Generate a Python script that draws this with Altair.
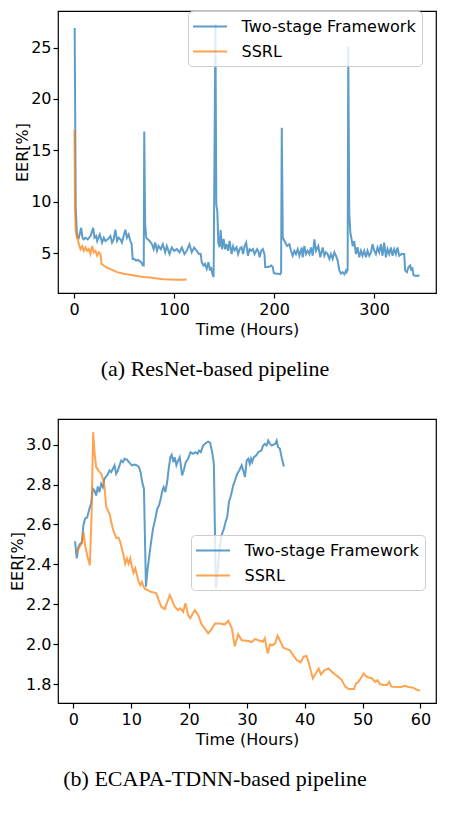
import altair as alt
import pandas as pd

# ---------------- Panel (a): ResNet-based pipeline ----------------
a_two_t = [0.5, 1.5, 2.5, 3.0, 4.65, 6.98, 8.3, 9.63, 11.3, 13.6, 16.3, 19.0, 20.3, 22.0, 23.0, 25.6, 27.9,
           29.6, 31.2, 33.6, 36.2, 37.9, 39.5, 41.2, 42.9, 44.5, 46.2, 47.8, 49.5, 51.2, 52.8, 54.5, 56.2,
           57.5, 58.5, 60.2, 61.8, 63.8, 65.5, 67.1, 68.8, 69.6, 70.1, 71.0, 72.1, 73.5, 75.5, 77.8, 79.5,
           81.1, 82.8, 84.4, 86.7, 88.7, 91.0, 92.7, 95.4, 97.7, 100.0, 102.7, 105.3, 107.7, 110.3, 112.6,
           115.3, 117.6, 120.0, 122.6, 125.0, 126.6, 127.6, 129.3, 130.9, 132.6, 134.3, 135.9, 136.9, 138.2,
           139.5, 140.6, 141.3, 142.2, 143.2, 144.2, 145.5, 146.5, 148.0, 149.5, 151.0, 152.5, 154.0, 155.5,
           157.5, 159.0, 160.5, 162.5, 164.0, 166.0, 167.5, 169.0, 170.5, 172.1, 173.8, 175.5, 177.1, 178.8,
           180.5, 182.1, 183.1, 184.5, 185.5, 187.1, 188.8, 190.4, 191.1, 193.8, 195.4, 197.1, 198.7, 199.7,
           202.0, 204.4, 206.0, 207.0, 207.7, 208.7, 210.4, 213.0, 215.3, 216.9, 218.6, 220.3, 221.9, 223.6,
           225.3, 227.6, 228.6, 230.3, 231.9, 233.6, 235.3, 236.9, 238.6, 240.3, 241.9, 244.3, 246.2, 248.6,
           250.3, 251.9, 253.6, 255.3, 256.9, 258.6, 260.3, 261.9, 263.6, 265.3, 266.9, 268.6, 270.3, 271.9,
           272.6, 273.6, 274.2, 275.2, 276.3, 277.5, 278.6, 280.2, 281.9, 283.5, 285.2, 286.9, 288.5, 290.2,
           291.9, 293.5, 295.2, 296.9, 298.5, 300.2, 301.9, 303.5, 305.2, 306.9, 308.5, 310.2, 311.9, 313.5,
           315.2, 316.9, 318.5, 320.2, 321.9, 323.5, 325.2, 327.5, 330.2, 331.2, 332.9, 334.5, 336.2, 337.2,
           338.2, 339.5, 342.0, 344.0, 345.5]
a_two_v = [26.9, 9.5, 7.3, 6.68, 6.52, 7.48, 6.52, 6.36, 6.52, 6.36, 6.68, 7.48, 6.52, 6.68, 6.2, 6.84, 6.05,
           6.52, 6.2, 6.36, 6.68, 6.05, 6.36, 7.3, 6.2, 6.52, 6.36, 6.05, 6.68, 7.3, 6.52, 6.84, 6.2,
           5.89, 4.46, 4.46, 4.3, 4.36, 4.25, 4.14, 3.82, 3.82, 16.85, 7.8, 6.52, 6.36, 6.2, 5.89, 5.41,
           6.05, 5.25, 5.72, 5.41, 5.89, 5.1, 5.72, 4.93, 5.57, 5.25, 5.41, 5.1, 5.57, 4.93, 5.25,
           5.89, 5.1, 5.57, 5.25, 4.93, 4.93, 4.14, 3.82, 3.98, 3.5, 4.14, 3.34, 3.67, 3.03,
           2.7, 17.7, 27.3, 9.7, 9.1, 6.0, 5.6, 7.3, 5.4, 6.4, 5.4, 5.9, 5.25, 6.2,
           4.93, 5.7, 5.3, 5.6, 4.93, 5.5, 5.6, 4.93, 5.7, 6.05, 4.77, 5.41, 5.25, 5.41,
           4.93, 5.25, 5.41, 5.1, 4.62, 5.25, 5.41, 4.93, 3.67, 3.67, 3.72, 3.82, 3.67, 3.1,
           3.03, 3.03, 2.97, 3.1, 17.2, 6.55, 6.2, 5.72, 5.89, 5.25, 4.77, 5.25, 4.93, 5.41,
           4.77, 5.57, 4.62, 5.72, 4.93, 5.25, 4.93, 5.57, 4.77, 6.36, 5.25, 5.72, 4.62, 5.57,
           4.77, 5.1, 4.93, 4.46, 4.93, 4.46, 5.1, 4.77, 4.3, 3.34, 3.03, 3.18, 2.97, 3.34,
           3.18, 3.4, 25.1, 9.0, 7.0, 6.4, 5.7, 6.2, 4.93, 5.6, 4.62, 5.25, 4.77, 5.25,
           4.62, 5.25, 4.77, 5.1, 5.9, 5.25, 4.93, 5.57, 5.1, 5.9, 4.77, 6.05, 4.62, 5.41,
           4.93, 5.57, 4.77, 5.41, 4.93, 5.57, 4.77, 4.93, 4.93, 3.34, 3.18, 3.67, 3.82, 3.34,
           3.67, 2.87, 2.8, 2.85, 2.82]

a_ssrl_t = [0.3, 0.8, 1.5, 2.5, 3.0, 4.6, 6.3, 8.0, 9.6, 11.3, 13.0, 14.6, 16.3, 18.0, 19.6, 21.3, 23.0,
            24.6, 26.3, 27.5, 29.5, 33.0, 38.0, 43.0, 49.5, 56.0, 63.0, 69.5, 76.0, 83.0, 89.4, 96.0,
            102.7, 109.0, 112.6]
a_ssrl_v = [17.0, 9.5, 7.2, 6.6, 6.68, 5.9, 5.41, 5.72, 5.25, 5.57, 5.25, 5.41, 4.93, 5.72, 5.1, 5.25, 4.77,
            5.1, 4.93, 3.98, 3.82, 3.6, 3.4, 3.18, 3.03, 2.92, 2.81, 2.71, 2.65, 2.55, 2.49, 2.46,
            2.43, 2.43, 2.46]

# ---------------- Panel (b): ECAPA-TDNN-based pipeline ----------------
b_two_t = [0.29, 0.58, 0.87, 1.22, 1.45, 1.74, 2.03, 2.38, 2.78, 3.07, 3.36, 3.65, 3.94, 4.22, 4.51, 4.8,
           5.09, 5.38, 5.84, 6.25, 6.54, 6.83, 7.11, 7.4, 7.69, 7.98, 8.27, 8.56, 8.85, 9.25, 9.72, 10.12,
           10.58, 10.99, 11.33, 11.62, 11.9, 12.2, 12.55, 12.78, 13.07, 13.36, 13.77, 14.17, 14.52, 14.81,
           15.1, 15.38, 15.61, 15.9, 16.25, 16.48, 16.77, 17.0, 17.29, 17.52, 17.81, 18.1, 18.39, 18.8,
           19.08, 19.43, 19.84, 20.24, 20.7, 21.1, 21.45, 21.74, 22.03, 22.43, 22.9, 23.3, 23.65, 24.0,
           24.29, 24.46, 24.64, 25.04, 25.33, 25.62, 26.03, 26.32, 26.6, 26.9, 27.24, 27.65, 27.94, 28.34,
           28.69, 29.1, 29.38, 29.67, 29.96, 30.25, 30.5, 30.7, 30.9, 31.2, 31.6, 31.97, 32.3, 32.5, 32.8,
           33.1, 33.4, 33.7, 34.0, 34.3, 34.6, 34.9, 35.15, 35.4, 35.7, 36.0, 36.4]
b_two_v = [2.516, 2.43, 2.488, 2.505, 2.51, 2.596, 2.63, 2.635, 2.68, 2.704, 2.779, 2.77, 2.745, 2.79, 2.762,
           2.804, 2.787, 2.829, 2.846, 2.87, 2.862, 2.879, 2.896, 2.854, 2.87, 2.896, 2.92, 2.912, 2.929,
           2.925, 2.908, 2.896, 2.9, 2.896, 2.887, 2.862, 2.812, 2.779, 2.288, 2.363, 2.43, 2.496, 2.579,
           2.63, 2.68, 2.695, 2.729, 2.77, 2.787, 2.762, 2.82, 2.88, 2.937, 2.949, 2.912, 2.937, 2.896,
           2.92, 2.937, 2.846, 2.87, 2.912, 2.929, 2.962, 2.954, 2.962, 2.954, 2.97, 2.962, 2.995, 3.008,
           3.015, 3.008, 2.962, 2.904, 2.596, 2.28, 2.396, 2.496, 2.546, 2.579, 2.613, 2.638, 2.713, 2.745,
           2.796, 2.82, 2.854, 2.87, 2.896, 2.87, 2.837, 2.92, 2.929, 2.904, 2.929, 2.912, 2.937, 2.945,
           2.962, 2.967, 2.97, 2.995, 3.003, 2.995, 3.02, 3.003, 2.995, 3.0, 3.003, 3.02, 2.987, 2.98,
           2.937, 2.89]

b_ssrl_t = [0.47, 0.76, 1.05, 1.45, 1.74, 2.03, 2.38, 2.84, 3.13, 3.42, 3.65, 3.94, 4.34, 4.8, 5.09, 5.38,
            5.67, 5.96, 6.25, 6.54, 6.83, 7.11, 7.4, 7.81, 8.1, 8.38, 8.67, 8.96, 9.25, 9.54, 9.83, 10.12,
            10.4, 10.7, 10.99, 11.28, 11.57, 11.86, 12.15, 12.43, 12.9, 13.36, 13.88, 14.34, 14.75, 15.2,
            15.8, 16.25, 16.66, 17.06, 17.52, 18.1, 18.5, 18.97, 19.37, 19.84, 20.2, 21.0, 21.6, 22.1,
            22.7, 23.3, 23.8, 24.5, 25.3, 26.2, 26.8, 27.4, 27.9, 28.5, 29.1, 30.3, 30.8, 31.4, 32.0,
            32.8, 33.1, 33.6, 34.0, 34.4, 34.9, 35.3, 35.7, 36.3, 36.9, 37.4, 38.0, 38.6, 39.3, 39.8,
            40.3, 40.8, 41.4, 41.9, 42.4, 42.8, 43.4, 44.1, 44.7, 45.2, 45.8, 46.4, 47.0, 47.6, 48.5,
            48.9, 49.3, 49.7, 50.2, 50.6, 51.0, 51.6, 52.2, 52.6, 53.0, 53.6, 54.2, 54.6, 55.0, 55.9,
            56.7, 57.3, 57.9, 58.7, 59.5, 59.9]
b_ssrl_v = [2.454, 2.47, 2.488, 2.505, 2.563, 2.496, 2.446, 2.396, 2.63, 3.062, 2.962, 2.887, 2.87, 2.854,
            2.829, 2.79, 2.687, 2.67, 2.654, 2.613, 2.579, 2.554, 2.533, 2.533, 2.513, 2.479, 2.446, 2.404,
            2.43, 2.404, 2.43, 2.388, 2.358, 2.38, 2.346, 2.313, 2.296, 2.313, 2.288, 2.276, 2.271, 2.263,
            2.26, 2.255, 2.221, 2.188, 2.176, 2.213, 2.246, 2.221, 2.188, 2.171, 2.18, 2.163, 2.205, 2.146,
            2.13, 2.171, 2.146, 2.104, 2.08, 2.055, 2.071, 2.104, 2.104, 2.1, 2.118, 2.08, 1.99, 2.05,
            2.02, 2.016, 2.01, 2.026, 2.02, 2.013, 2.03, 1.954, 1.999, 1.995, 2.005, 2.043, 2.02, 1.983,
            1.976, 1.971, 1.946, 1.921, 1.909, 1.938, 1.942, 1.896, 1.829, 1.854, 1.879, 1.849, 1.87,
            1.879, 1.862, 1.85, 1.837, 1.821, 1.788, 1.776, 1.776, 1.804, 1.812, 1.83, 1.854, 1.84,
            1.834, 1.83, 1.812, 1.82, 1.8, 1.796, 1.796, 1.812, 1.788, 1.786, 1.786, 1.792, 1.786, 1.783,
            1.771, 1.768]

series_names = ["Two-stage Framework", "SSRL"]
series_colors = ["#1f77b4", "#ff7f0e"]
captions = ["(a) ResNet-based pipeline", "(b) ECAPA-TDNN-based pipeline"]


def make_df(t1, v1, t2, v2):
    return pd.DataFrame({
        "t": list(t1) + list(t2),
        "v": list(v1) + list(v2),
        "series": [series_names[0]] * len(t1) + [series_names[1]] * len(t2),
    })


def panel(df, xdom, ydom, xticks, yticks, w, h, caption, lx, ly, ytitle_fmt):
    return alt.Chart(df).mark_line(strokeWidth=2, opacity=0.72, clip=True).encode(
        x=alt.X("t:Q", scale=alt.Scale(domain=xdom, nice=False, zero=False),
                axis=alt.Axis(values=xticks, title="Time (Hours)", format="d")),
        y=alt.Y("v:Q", scale=alt.Scale(domain=ydom, nice=False, zero=False),
                axis=alt.Axis(values=yticks, title="EER[%]", format=ytitle_fmt)),
        color=alt.Color("series:N",
                        scale=alt.Scale(domain=series_names, range=series_colors),
                        legend=alt.Legend(title=None, orient="none", legendX=lx, legendY=ly,
                                          direction="vertical", symbolType="M-2,0H2",
                                          symbolSize=289, symbolStrokeWidth=2, symbolOffset=6.5,
                                          symbolOpacity=0.72, labelFont="DejaVu Sans",
                                          labelFontSize=16, labelColor="black", labelOffset=22,
                                          labelLimit=400,
                                          padding=6, strokeColor="#cccccc", cornerRadius=4,
                                          fillColor="rgba(255,255,255,0.8)", rowPadding=7)),
    ).properties(
        width=w, height=h,
        title=alt.TitleParams(caption, orient="bottom", font="Liberation Serif", fontSize=22,
                              fontWeight="normal", color="black", anchor="middle", dx=-32, offset=22),
    )


top = panel(make_df(a_two_t, a_two_v, a_ssrl_t, a_ssrl_v), [-16.2, 362.0], [1.15, 28.55],
            [0, 100, 200, 300], [5, 10, 15, 20, 25], 378, 282, captions[0], 130, 0, "d")
bottom = panel(make_df(b_two_t, b_two_v, b_ssrl_t, b_ssrl_v), [-2.66, 62.7], [1.706, 3.128],
               [0, 10, 20, 30, 40, 50, 60], [1.8, 2.0, 2.2, 2.4, 2.6, 2.8, 3.0], 378, 284,
               captions[1], 133, 116, ".1f")

chart = alt.vconcat(top, bottom, spacing=37).resolve_scale(color="independent").resolve_legend(
    color="independent"
).properties(
    padding={"left": 0, "top": 1, "right": 5, "bottom": 5}
).configure_view(
    stroke="black", strokeWidth=1.2
).configure_axis(
    domain=False, grid=False, tickColor="black", tickSize=5, tickWidth=1.2,
    labelFont="DejaVu Sans", labelFontSize=16, labelColor="black", labelPadding=3,
    titleFont="DejaVu Sans", titleFontSize=16, titleFontWeight="normal", titleColor="black",
).configure_axisY(titlePadding=0, labelPadding=2).configure_axisX(titlePadding=4)

chart.save("out.html", embed_options={"renderer": "svg", "actions": False})
